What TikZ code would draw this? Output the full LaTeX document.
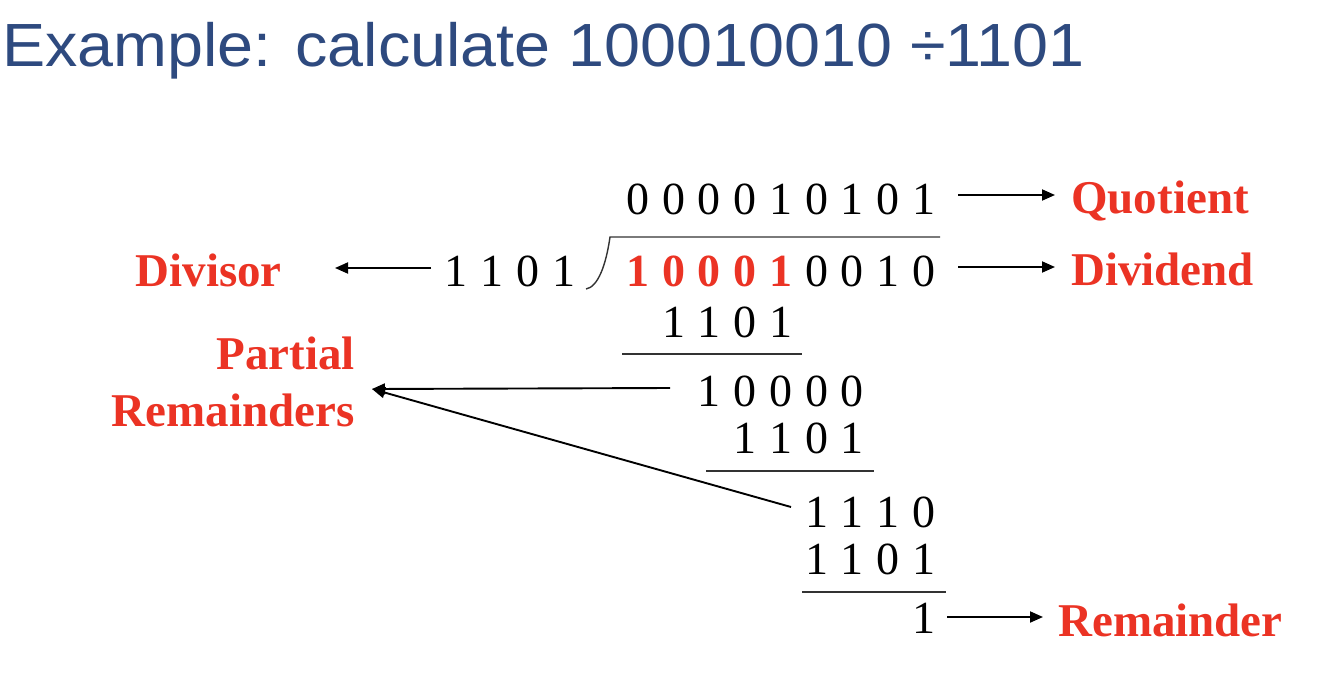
\documentclass[tikz,border=0pt]{standalone}
\usepackage{fontspec}
\usepackage{tikz}
\usetikzlibrary{arrows.meta}
\setmainfont{Liberation Serif}
\newfontfamily\titlefont{Liberation Sans}
\definecolor{myred}{RGB}{235,51,36}
\definecolor{titleblue}{RGB}{46,74,127}
\newcommand{\dfont}{\fontsize{46pt}{46pt}\selectfont}
\newcommand{\lfont}{\fontsize{47pt}{47pt}\selectfont\bfseries}
\tikzset{
  dig/.style = {font=\dfont, inner sep=0pt, anchor=base},
  reddig/.style = {dig, font=\dfont\bfseries, text=myred},
  lbl/.style = {font=\lfont, text=myred, inner sep=0pt},
  rule/.style = {line width=1.4pt, black!80},
  arr/.style = {line width=1.9pt, -{Triangle[length=13pt, width=11pt]}}
}

\begin{document}
\begin{tikzpicture}[x = 1pt, y = -1pt]
              \useasboundingbox (0,0) rectangle (1340,680);
              \node [anchor = base west, inner sep = 0pt, text = titleblue,
                     font = \titlefont\fontsize{61pt}{61pt}\selectfont] (title) at (2,66)
                     {\scalebox{1.06}[1]{Example: calculate 100010010 ÷1101}};
              % quotient
              \foreach \d [count = \k] in {0, 0, 0, 0, 1, 0, 1, 0, 1}
              \node [dig] (q\k) at ({602.3+35.7*\k}, 214) {\d};
              % divisor and dividend
              \foreach \d [count = \k] in {1, 1, 0, 1}
              \node [dig] (s\k) at ({419.5+36*\k}, 286) {\d};
              \foreach \d [count = \k] in {1, 0, 0, 0, 1}
              \node [reddig] (v\k) at ({602.3+35.7*\k}, 286) {\d};
              \foreach \d [count = \k from 6] in {0, 0, 1, 0}
              \node [dig] (v\k) at ({602.3+35.7*\k}, 286) {\d};
              \draw [rule] (586,289) .. controls (598,287) and (606,265) .. (610,237) -- (940,237);
              % steps
              \foreach \d [count = \k from 2] in {1, 1, 0, 1}
              \node [dig] (a\k) at ({602.3+35.7*\k}, 337) {\d};
              \draw [rule] (622,354) -- (802,354);
              \foreach \d [count = \k from 3] in {1, 0, 0, 0, 0}
              \node [dig] (b\k) at ({602.3+35.7*\k}, 406) {\d};
              \foreach \d [count = \k from 4] in {1, 1, 0, 1}
              \node [dig] (c\k) at ({602.3+35.7*\k}, 453) {\d};
              \draw [rule] (706,471) -- (874,471);
              \foreach \d [count = \k from 6] in {1, 1, 1, 0}
              \node [dig] (e\k) at ({602.3+35.7*\k}, 527) {\d};
              \foreach \d [count = \k from 6] in {1, 1, 0, 1}
              \node [dig] (f\k) at ({602.3+35.7*\k}, 574) {\d};
              \draw [rule] (802,592) -- (946,592);
              \node [dig] (g9) at ({602.3+35.7*9}, 633) {1};
              % labels
              \node [lbl, anchor = base west] (quot) at (1071,213) {Quotient};
              \node [lbl, anchor = base west] (dvd) at (1071,285) {Dividend};
              \node [lbl, anchor = base east] (dvs) at (282,286) {Divisor};
              \node [lbl, anchor = base east] (part) at (355,369) {Partial};
              \node [lbl, anchor = base east] (prem) at (355,426) {Remainders};
              \node [lbl, anchor = base west] (rem) at (1058,636) {Remainder};
              % arrows
              \coordinate (qa) at (958,195);
              \coordinate (va) at (958,267);
              \coordinate (sa) at (431,268);
              \coordinate (ra) at (947,617);
              \coordinate (pa) at (670,388);
              \coordinate (pb) at (791,507);
              \coordinate (ptip) at (372,389);
              \draw [arr, shorten > = 16pt] (qa) -- (qa -| quot.west);
              \draw [arr, shorten > = 16pt] (va) -- (va -| dvd.west);
              \draw [arr, shorten > = 53pt] (sa) -- (sa -| dvs.east);
              \draw [arr, shorten > = 15pt] (ra) -- (ra -| rem.west);
              \draw [arr] (pa) -- (ptip);
              \draw [arr] (pb) -- (ptip);
            \end{tikzpicture}
\end{document}
